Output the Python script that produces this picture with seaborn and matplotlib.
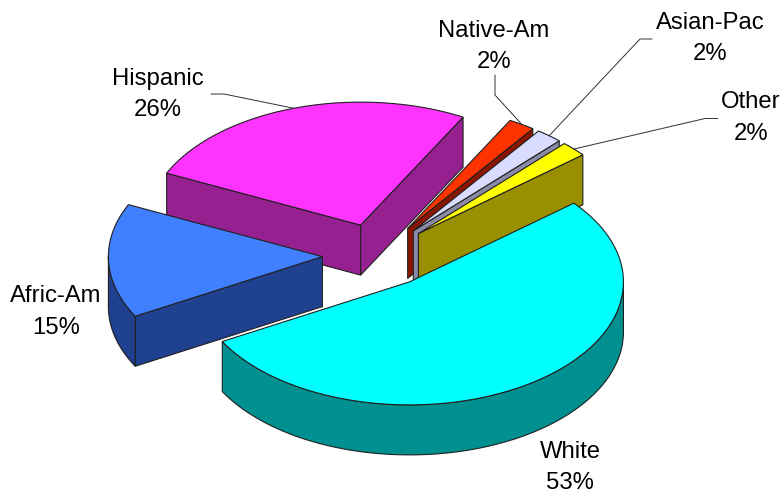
import numpy as np
import pandas as pd
import matplotlib.pyplot as plt
from matplotlib.patches import Polygon
import seaborn as sns

# data, clockwise from the Afric-Am slice
groups = ['Afric-Am', 'Hispanic', 'Native-Am', 'Asian-Pac', 'Other', 'White']
shares = [15, 26, 2, 2, 2, 53]
top_colors = ['#4080FF', '#FF33FF', '#FF3300', '#D9DCFF', '#FFFF00', '#00FFFF']
side_colors = ['#204090', '#962090', '#8B1500', '#8A8AA6', '#999000', '#009090']

df = pd.DataFrame({'group': groups, 'share': shares})

# pie geometry, in pixels of the figure
center = (378, 255.5)
rx, ry = 214, 123
depth = 50
explode = 0.26
start_angle = 209

# where the labels sit, and the elbow of each leader line
label_pos = {'Afric-Am': (56, 312), 'Hispanic': (158, 94.5), 'Native-Am': (494, 46.5),
             'Asian-Pac': (710, 38.5), 'Other': (751, 118), 'White': (570, 467.5)}
elbows = {'Hispanic': (224, 94), 'Native-Am': (495, 95), 'Asian-Pac': (640, 39), 'Other': (705, 118.5)}
leader_start = {'Hispanic': (211, 94), 'Native-Am': (495, 75), 'Asian-Pac': (652, 39), 'Other': (718, 118.5)}

sns.set_theme(style='white')
plt.rcParams['font.family'] = ['Liberation Sans', 'DejaVu Sans']
top_pal = sns.color_palette(top_colors)
side_pal = sns.color_palette(side_colors)

fig = plt.figure(figsize=(7.83, 4.96), dpi=100)
ax = fig.add_axes([0, 0, 1, 1])
ax.set_xlim(0, 783)
ax.set_ylim(496, 0)
ax.axis('off')

df['sweep'] = df['share'] / df['share'].sum() * 360
df['a'] = start_angle - df['sweep'].cumsum().shift(fill_value=0)
df['b'] = df['a'] - df['sweep']
df['mid'] = (df['a'] + df['b']) / 2
df['cx'] = center[0] + explode * rx * np.cos(np.radians(df['mid']))
df['cy'] = center[1] - explode * ry * np.sin(np.radians(df['mid']))
df['top'] = top_pal
df['side'] = side_pal


def arc(row, a, b):
    t = np.radians(np.linspace(a, b, 120))
    return np.column_stack([row.cx + rx * np.cos(t), row.cy - ry * np.sin(t)])


def rim_point(row, angle):
    t = np.radians(angle)
    return np.array([row.cx + rx * np.cos(t), row.cy - ry * np.sin(t)])


def draw_wall(row, angle):
    p = rim_point(row, angle)
    apex = np.array([row.cx, row.cy])
    down = np.array([0, depth])
    pts = [apex, p, p + down, apex + down]
    ax.add_patch(Polygon(pts, closed=True, fc=row.side, ec='#202020', lw=0.8))


def draw_rim(row):
    # the outer wall only shows where the rim faces the viewer (sin < 0)
    for turn in (0, -360, 360):
        lo = max(row.b, -180 + turn)
        hi = min(row.a, 0 + turn)
        if hi > lo:
            edge = arc(row, hi, lo)
            pts = np.vstack([edge, edge[::-1] + [0, depth]])
            ax.add_patch(Polygon(pts, closed=True, fc=row.side, ec='#202020', lw=0.8))


# back to front
for row in df.sort_values('cy').itertuples():
    if np.cos(np.radians(row.a)) < 0:
        draw_wall(row, row.a)
    if np.cos(np.radians(row.b)) > 0:
        draw_wall(row, row.b)
    draw_rim(row)
    pts = np.vstack([[row.cx, row.cy], arc(row, row.a, row.b)])
    ax.add_patch(Polygon(pts, closed=True, fc=row.top, ec='#202020', lw=0.8))

# labels and leader lines
for row in df.itertuples():
    x, y = label_pos[row.group]
    ax.text(x, y, f'{row.group}\n{row.share}%', ha='center', va='center',
            fontsize=17.2, color='black', linespacing=1.55)
    if row.group in elbows:
        end = rim_point(row, row.mid)
        xs = [leader_start[row.group][0], elbows[row.group][0], end[0]]
        ys = [leader_start[row.group][1], elbows[row.group][1], end[1]]
        ax.plot(xs, ys, color='#303030', lw=0.7)

fig.savefig('out.png', dpi=100)
